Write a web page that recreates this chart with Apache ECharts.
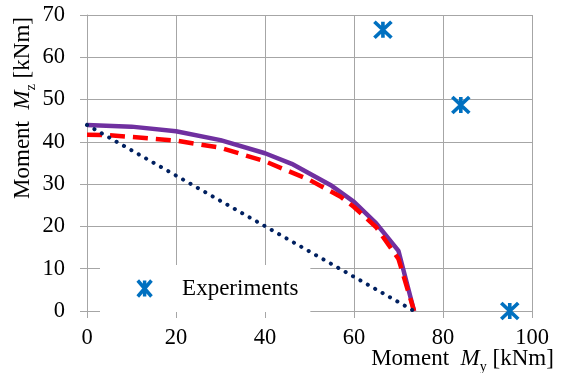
<!DOCTYPE html>
<html>
<head>
<meta charset="utf-8">
<script src="https://cdn.jsdelivr.net/npm/echarts@6/dist/echarts.min.js"></script>
<style>
  html, body { margin: 0; padding: 0; background: #fff; }
  #chart { width: 562px; height: 373px; }
</style>
</head>
<body>
<div id="chart"></div>
<script>
// Interaction curves My–Mz [kNm]
const curveAX = [0, 10, 20, 30, 40, 46, 55, 60, 65, 70, 73.5];
const curveAY = [44, 43.6, 42.5, 40.4, 37.3, 34.8, 29.6, 25.8, 20.7, 14.2, 0];

const curveBX = [0, 5, 20, 30, 40, 50, 57, 60, 65, 70, 73.5];
const curveBY = [41.7, 41.6, 40.3, 38.6, 35.4, 31, 27, 24.6, 19.8, 12.3, 0];

const linearX = [0, 73.5];
const linearY = [44, 0];

const expX = [66.5, 84, 95];
const expY = [66.5, 48.7, 0];

const xTicks = [0, 20, 40, 60, 80, 100];
const yTicks = [0, 10, 20, 30, 40, 50, 60, 70];

const zip = (xs, ys) => xs.map((x, i) => [x, ys[i]]);

const FONT = "'Liberation Serif', 'Times New Roman', serif";
const GRID_GRAY = '#a6a6a6';
// asterisk marker: X plus a vertical stroke
const STAR = 'path://M0,0 L12,14 M12,0 L0,14 M6,0 L6,14';

const nameRich = {
  i: { fontFamily: FONT, fontSize: 23, fontStyle: 'italic', color: '#000' },
  s: { fontFamily: FONT, fontSize: 14, color: '#000', verticalAlign: 'bottom', lineHeight: 30 }
};

const chart = echarts.init(document.getElementById('chart'), null, { renderer: 'canvas' });

chart.setOption({
  animation: false,
  backgroundColor: '#fff',
  grid: { left: 87, right: 30, top: 15, bottom: 62, containLabel: false, outerBoundsMode: 'none' },
  legend: {
    data: [{ name: 'Experiments', icon: STAR }],
    left: 100,
    top: 265,
    padding: [12, 12, 12, 36],
    backgroundColor: '#fff',
    itemWidth: 17,
    itemHeight: 16,
    selectedMode: false,
    itemStyle: { color: '#0070C0', borderColor: '#0070C0', borderWidth: 3.5 },
    textStyle: { fontFamily: FONT, fontSize: 23, color: '#000', padding: [0, 0, 0, 24] }
  },
  xAxis: {
    type: 'value',
    min: 0, max: 100, interval: 20,
    name: 'Moment  {i|M}{s|y} [kNm]',
    nameLocation: 'middle',
    nameGap: 33,
    nameMoveOverlap: false,
    nameTextStyle: {
      fontFamily: FONT, fontSize: 23, color: '#000',
      padding: [0, 0, 0, 306],
      rich: nameRich
    },
    axisLine: { show: true, lineStyle: { color: GRID_GRAY, width: 1 } },
    axisTick: { show: true, length: 7, lineStyle: { color: GRID_GRAY, width: 1 } },
    splitLine: { show: true, lineStyle: { color: GRID_GRAY, width: 1 } },
    axisLabel: {
      fontFamily: FONT, fontSize: 22.5, color: '#000', margin: 16,
      formatter: v => (xTicks.includes(v) ? String(v) : '')
    }
  },
  yAxis: {
    type: 'value',
    min: 0, max: 70, interval: 10,
    name: 'Moment  {i|M}{s|z} [kNm]',
    nameLocation: 'middle',
    nameGap: 49,
    nameRotate: 90,
    nameMoveOverlap: false,
    nameTextStyle: {
      fontFamily: FONT, fontSize: 23, color: '#000',
      padding: [0, 0, 0, 110],
      rich: nameRich
    },
    axisLine: { show: true, lineStyle: { color: GRID_GRAY, width: 1 } },
    axisTick: { show: true, length: 7, lineStyle: { color: GRID_GRAY, width: 1 } },
    splitLine: { show: true, lineStyle: { color: GRID_GRAY, width: 1 } },
    axisLabel: {
      fontFamily: FONT, fontSize: 22.5, color: '#000', margin: 22,
      formatter: v => (yTicks.includes(v) ? String(v) : '')
    }
  },
  series: [
    {
      name: 'Curve A',
      type: 'line',
      data: zip(curveAX, curveAY),
      showSymbol: false,
      lineStyle: { color: '#7030A0', width: 4.5 },
      z: 2
    },
    {
      name: 'Curve B',
      type: 'line',
      data: zip(curveBX, curveBY),
      showSymbol: false,
      lineStyle: { color: '#FF0000', width: 4.5, type: [15, 8] },
      z: 3
    },
    {
      name: 'Linear',
      type: 'line',
      data: zip(linearX, linearY),
      showSymbol: false,
      lineStyle: { color: '#002060', width: 4, type: [0.1, 8.4], cap: 'round' },
      z: 4
    },
    {
      name: 'Experiments',
      type: 'scatter',
      data: zip(expX, expY),
      symbol: STAR,
      symbolSize: [17, 16],
      itemStyle: { color: '#0070C0', borderColor: '#0070C0', borderWidth: 3.5, opacity: 1 },
      z: 5
    }
  ]
});
</script>
</body>
</html>
